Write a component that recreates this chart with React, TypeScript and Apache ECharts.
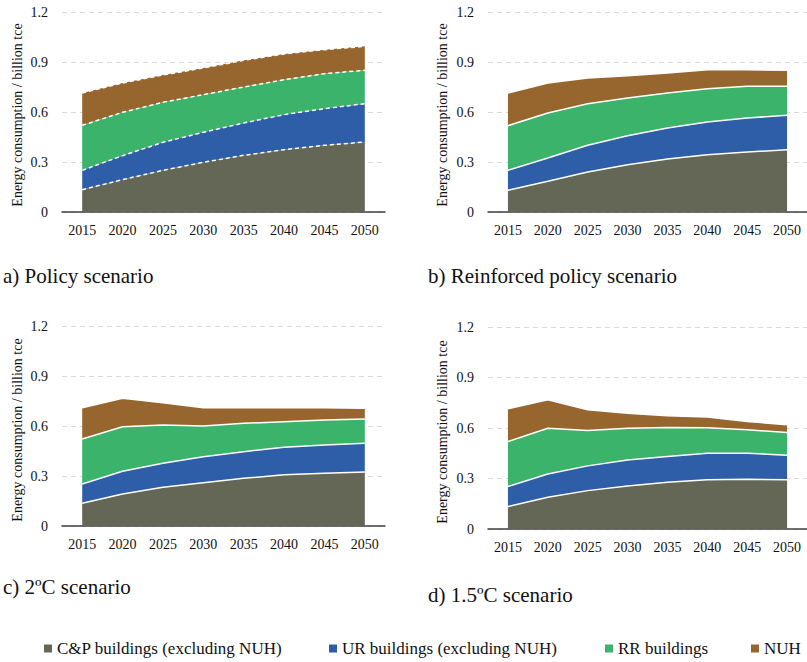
import React, { useEffect, useRef } from "react";
import * as echarts from "echarts";

const years = ["2015", "2020", "2025", "2030", "2035", "2040", "2045", "2050"];
const seriesNames = ["C&P buildings (excluding NUH)", "UR buildings (excluding NUH)", "RR buildings", "NUH"];
const colors = ["#646756", "#2F5EA9", "#3CB36B", "#97662F"];
const yTicks = [0, 0.3, 0.6, 0.9, 1.2];

// a) Policy scenario
const aCP = [0.134, 0.194, 0.25, 0.298, 0.34, 0.374, 0.4, 0.42];
const aUR = [0.116, 0.144, 0.168, 0.18, 0.194, 0.21, 0.22, 0.23];
const aRR = [0.27, 0.26, 0.24, 0.226, 0.216, 0.21, 0.21, 0.2];
const aNUH = [0.194, 0.176, 0.164, 0.16, 0.16, 0.154, 0.144, 0.144];

// b) Reinforced policy scenario
const bCP = [0.13, 0.184, 0.24, 0.284, 0.318, 0.344, 0.36, 0.374];
const bUR = [0.12, 0.14, 0.16, 0.174, 0.186, 0.196, 0.204, 0.206];
const bRR = [0.268, 0.27, 0.25, 0.226, 0.21, 0.2, 0.19, 0.174];
const bNUH = [0.196, 0.18, 0.154, 0.134, 0.12, 0.114, 0.1, 0.096];

// c) 2ºC scenario
const cCP = [0.136, 0.192, 0.232, 0.26, 0.286, 0.308, 0.316, 0.324];
const cUR = [0.116, 0.136, 0.144, 0.156, 0.16, 0.164, 0.17, 0.172];
const cRR = [0.27, 0.268, 0.23, 0.184, 0.17, 0.154, 0.15, 0.146];
const cNUH = [0.188, 0.17, 0.134, 0.11, 0.094, 0.084, 0.074, 0.064];

// d) 1.5ºC scenario
const dCP = [0.133, 0.188, 0.228, 0.256, 0.278, 0.292, 0.296, 0.292];
const dUR = [0.119, 0.139, 0.147, 0.154, 0.152, 0.158, 0.154, 0.146];
const dRR = [0.268, 0.272, 0.21, 0.189, 0.173, 0.151, 0.139, 0.135];
const dNUH = [0.194, 0.169, 0.123, 0.089, 0.07, 0.064, 0.05, 0.046];

const panelTitles = ["a) Policy scenario", "b) Reinforced policy scenario", "c) 2ºC scenario", "d) 1.5ºC scenario"];
const yTitle = "Energy consumption / billion tce";

const FONT = "Times New Roman, Liberation Serif, serif";

export default function App() {
  const ref = useRef<HTMLDivElement>(null);
  useEffect(() => {
    if (!ref.current) return;
    const chart = echarts.init(ref.current, null, { renderer: "svg" });
    const panels = [
      { data: [aCP, aUR, aRR, aNUH], dashed: true },
      { data: [bCP, bUR, bRR, bNUH], dashed: false },
      { data: [cCP, cUR, cRR, cNUH], dashed: false },
      { data: [dCP, dUR, dRR, dNUH], dashed: false },
    ];
    const grids = [
      { left: 62, top: 12, width: 323, height: 200 },
      { left: 488, top: 12, width: 319, height: 200 },
      { left: 62, top: 326, width: 323, height: 200 },
      { left: 488, top: 327, width: 319, height: 202 },
    ];
    const xAxis = grids.map((_, i) => ({
      type: "category",
      gridIndex: i,
      data: years,
      boundaryGap: true,
      axisTick: { show: false },
      axisLine: { lineStyle: { color: "#404040", width: 1.5 } },
      axisLabel: { interval: 0, fontFamily: FONT, fontSize: 14, color: "#111", margin: 11 },
    }));
    const yAxis = grids.map((_, i) => ({
      type: "value",
      gridIndex: i,
      min: yTicks[0],
      max: yTicks[yTicks.length - 1],
      interval: 0.3,
      axisLine: { show: false },
      axisTick: { show: false },
      axisLabel: { fontFamily: FONT, fontSize: 14, color: "#111", margin: 14 },
      splitLine: { lineStyle: { color: "#d9d9d9", type: [5, 4], width: 1 } },
    }));
    const series: any[] = [];
    panels.forEach((p, pi) => {
      p.data.forEach((vals, si) => {
        series.push({
          type: "line",
          name: seriesNames[si],
          xAxisIndex: pi,
          yAxisIndex: pi,
          stack: "s" + pi,
          data: vals,
          showSymbol: false,
          symbol: "none",
          z: 10 - si,
          color: colors[si],
          lineStyle: { color: "#ffffff", width: 1.5, type: p.dashed ? [4, 3] : "solid" },
          areaStyle: { color: colors[si], opacity: 1 },
        });
      });
    });
    const titlePos = [
      { x: 3, y: 277 },
      { x: 428, y: 277 },
      { x: 3, y: 588 },
      { x: 428, y: 596 },
    ];
    const yTitlePos = [
      { x: 17, y: 115 },
      { x: 442, y: 115 },
      { x: 17, y: 430 },
      { x: 442, y: 432 },
    ];
    const graphic: any[] = [];
    panelTitles.forEach((t, i) => {
      graphic.push({
        type: "text",
        left: titlePos[i].x,
        top: titlePos[i].y - 12,
        style: { text: t, fontFamily: FONT, fontSize: 21, fill: "#111" },
      });
      graphic.push({
        type: "text",
        x: yTitlePos[i].x,
        y: yTitlePos[i].y,
        rotation: Math.PI / 2,
        style: {
          text: yTitle,
          fontFamily: FONT,
          fontSize: 14,
          fill: "#111",
          align: "center",
          verticalAlign: "middle",
        },
      });
    });
    const legendLeft = [44, 329, 605, 751];
    const legend = seriesNames.map((n, i) => ({
      data: [{ name: n, itemStyle: { color: colors[i] } }],
      left: legendLeft[i],
      top: 640,
      icon: "rect",
      itemWidth: 8,
      itemHeight: 8,
      padding: 0,
      textStyle: { fontFamily: FONT, fontSize: 17, color: "#111" },
    }));
    chart.setOption({
      animation: false,
      backgroundColor: "#ffffff",
      textStyle: { fontFamily: FONT },
      grid: grids,
      xAxis,
      yAxis,
      series,
      graphic,
      legend,
    });
    return () => chart.dispose();
  }, []);
  return (
    <div
      ref={ref}
      style={{ position: "absolute", left: 0, top: 0, width: 807, height: 662 }}
    />
  );
}
